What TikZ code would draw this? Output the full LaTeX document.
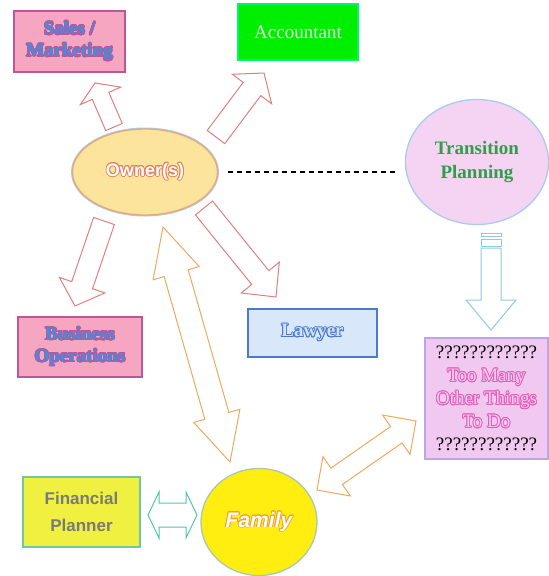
\documentclass[tikz,border=0pt]{standalone}
\usepackage{fontspec}
\setmainfont{Liberation Serif}
\setsansfont{Liberation Sans}
\usepackage{contour}
\contourlength{0.8pt}
\usetikzlibrary{calc,shapes.geometric}

\definecolor{salespink}{HTML}{F7A6C2}
\definecolor{salesedge}{HTML}{B8589A}
\definecolor{salestext}{HTML}{3E8FE0}
\definecolor{accgreen}{HTML}{00EE00}
\definecolor{acctext}{HTML}{E4F6E4}
\definecolor{ownerfill}{HTML}{FCE49C}
\definecolor{owneredge}{HTML}{E8A878}
\definecolor{owneroutl}{HTML}{E88060}
\definecolor{halo}{HTML}{A8CCEC}
\definecolor{transfill}{HTML}{F4D4F2}
\definecolor{transtext}{HTML}{2E9E4A}
\definecolor{lawfill}{HTML}{D8E8FA}
\definecolor{lawedge}{HTML}{4A7AD0}
\definecolor{lawtext}{HTML}{D2E2FA}
\definecolor{toofill}{HTML}{F0C8F0}
\definecolor{tooedge}{HTML}{B8A8E8}
\definecolor{tootext}{HTML}{FBC8EE}
\definecolor{toooutl}{HTML}{E060B8}
\definecolor{finfill}{HTML}{F0F040}
\definecolor{finedge}{HTML}{70C8A0}
\definecolor{fintext}{HTML}{7A7A7A}
\definecolor{famfill}{HTML}{FFEE10}
\definecolor{famedge}{HTML}{A8C8B0}
\definecolor{famoutl}{HTML}{F0A030}
\definecolor{redarrow}{HTML}{E08080}
\definecolor{orangearrow}{HTML}{F0A860}
\definecolor{bluearrow}{HTML}{90C8E8}
\definecolor{tealarrow}{HTML}{50C8A8}

\tikzset{
	infobox/.style={draw=#1, line width=1.3pt, preaction={draw=halo, line width=2.6pt}, align=center, inner sep=0pt},
	infoblob/.style={ellipse, draw=#1, line width=1.3pt, align=center, inner sep=0pt},
	blockarrow/.style={draw=#1, fill=white, line width=1pt, line join=miter}
}

% outlined block arrow: style, tail, tip, shaft half width, head half width, head length
\newcommand{\fatarrow}[6]{
	\draw[blockarrow=#1] let \p1=(#2), \p2=(#3), \n1={atan2(\y2-\y1,\x2-\x1)} in
		($(\p1)+(\n1+90:#4pt)$) -- ($(\p2)+(\n1:-#6pt)+(\n1+90:#4pt)$)
		-- ($(\p2)+(\n1:-#6pt)+(\n1+90:#5pt)$) -- (\p2)
		-- ($(\p2)+(\n1:-#6pt)+(\n1-90:#5pt)$) -- ($(\p2)+(\n1:-#6pt)+(\n1-90:#4pt)$)
		-- ($(\p1)+(\n1-90:#4pt)$) -- cycle;
}
% same, with a head at both ends
\newcommand{\dblarrow}[6]{
	\draw[blockarrow=#1] let \p1=(#2), \p2=(#3), \n1={atan2(\y2-\y1,\x2-\x1)} in
		(\p1) -- ($(\p1)+(\n1:#6pt)+(\n1+90:#5pt)$) -- ($(\p1)+(\n1:#6pt)+(\n1+90:#4pt)$)
		-- ($(\p2)+(\n1:-#6pt)+(\n1+90:#4pt)$) -- ($(\p2)+(\n1:-#6pt)+(\n1+90:#5pt)$) -- (\p2)
		-- ($(\p2)+(\n1:-#6pt)+(\n1-90:#5pt)$) -- ($(\p2)+(\n1:-#6pt)+(\n1-90:#4pt)$)
		-- ($(\p1)+(\n1:#6pt)+(\n1-90:#4pt)$) -- ($(\p1)+(\n1:#6pt)+(\n1-90:#5pt)$) -- cycle;
}

\begin{document}
\begin{tikzpicture}[x=1pt,y=-1pt]
	\useasboundingbox (0,0) rectangle (549,576);

	% boxes and blobs
	\node[infobox=salesedge, fill=salespink, minimum width=111pt, minimum height=61pt,
		text=salestext, font=\fontsize{19}{22}\selectfont\bfseries] (sales) at (69.5,41.5)
		{\contour{salesedge}{Sales /}\\\contour{salesedge}{Marketing}};
	\node[infobox=accgreen!60!cyan, fill=accgreen, minimum width=120pt, minimum height=56pt,
		text=acctext, font=\fontsize{19}{22}\selectfont] (acct) at (298,32) {Accountant};
	\node[infoblob=owneredge, fill=ownerfill, preaction={draw=halo, line width=3pt},
		minimum width=145pt, minimum height=86pt, text=white,
		font=\sffamily\bfseries\fontsize{18}{20}\selectfont] (owner) at (145,172)
		{\contour{owneroutl}{Owner(s)}};
	\node[infoblob=halo, fill=transfill, minimum width=143pt, minimum height=125pt,
		text=transtext, font=\fontsize{19}{24}\selectfont\bfseries] (trans) at (477,162)
		{Transition\\Planning};
	\node[infobox=salesedge, fill=salespink, minimum width=124pt, minimum height=60pt,
		text=salestext, font=\fontsize{19}{22}\selectfont\bfseries] (busops) at (80,347)
		{\contour{salesedge}{Business}\\\contour{salesedge}{Operations}};
	\node[infobox=lawedge, fill=lawfill, minimum width=129pt, minimum height=48pt,
		text=lawtext, font=\fontsize{19}{22}\selectfont\bfseries] (lawyer) at (312.5,333)
		{\contour{lawedge}{Lawyer}};
	\node[infobox=tooedge, fill=toofill, minimum width=123pt, minimum height=121pt,
		font=\fontsize{19}{23}\selectfont] (toomany) at (486.5,398.5)
		{????????????\\\textcolor{tootext}{\contour{toooutl}{Too Many}}\\
		\textcolor{tootext}{\contour{toooutl}{Other Things}}\\
		\textcolor{tootext}{\contour{toooutl}{To Do}}\\????????????};
	\node[infobox=finedge, fill=finfill, minimum width=117pt, minimum height=70pt,
		text=fintext, font=\sffamily\bfseries\fontsize{17}{27}\selectfont] (finplan) at (81.5,512)
		{Financial\\Planner};
	\node[infoblob=famedge, fill=famfill, minimum width=116pt, minimum height=107pt,
		text=white, font=\sffamily\bfseries\itshape\fontsize{21}{24}\selectfont] (family) at (259,522)
		{\contour{famoutl}{Family}};

	% link owner -- transition planning
	\draw[line width=1.6pt, dash pattern=on 5pt off 4pt, shorten <=10pt, shorten >=6pt]
		(owner.east) -- (owner.east -| trans.west);

	% arrow ends
	\coordinate (salesT) at (114,127);
	\coordinate (salesH) at (95,83);
	\coordinate (acctT) at (216,137);
	\coordinate (acctH) at (264,73);
	\coordinate (busT) at (104,221);
	\coordinate (busH) at (75,306);
	\coordinate (lawT) at (204,208);
	\coordinate (lawH) at (276,297);
	\coordinate (ownF) at (163,227);
	\coordinate (famO) at (230,462);
	\coordinate (famT) at (317,490);
	\coordinate (tooF) at (416,421);
	\coordinate (finF) at (148,515);
	\coordinate (famL) at (197,515);
	\coordinate (transT) at (491,248);
	\coordinate (transH) at (491,330);

	\fatarrow{redarrow}{salesT}{salesH}{9}{22}{14}
	\fatarrow{redarrow}{acctT}{acctH}{11}{24.5}{20}
	\fatarrow{redarrow}{busT}{busH}{11}{24}{22}
	\fatarrow{redarrow}{lawT}{lawH}{11}{24.5}{25}
	\dblarrow{orangearrow}{ownF}{famO}{12.5}{24}{48}
	\dblarrow{orangearrow}{famT}{tooF}{10}{24}{24}
	\dblarrow{tealarrow}{finF}{famL}{12}{23}{11}
	\fatarrow{bluearrow}{transT}{transH}{10}{25}{30}
	% stripes on top of the striped arrow
	\foreach \ya/\yb in {233/236, 239/246}{
		\draw[blockarrow=bluearrow] ($(transT)+(-10pt,0)$) ++(0,\ya-248) rectangle ++(20,\yb-\ya);
	}
\end{tikzpicture}
\end{document}
